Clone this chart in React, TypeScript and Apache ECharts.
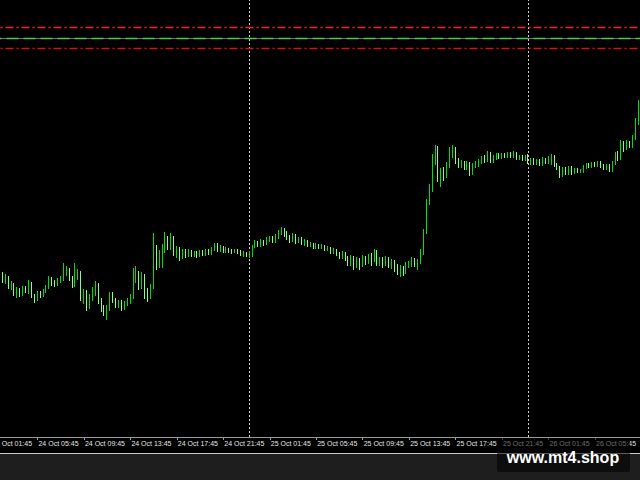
import React, { useEffect, useRef } from "react";
import * as echarts from "echarts";

// M15 time axis: first slot 24 Oct 01:45 (its candle area is just off-canvas left), 224 slots
const FIRST_DAY = 24;
const FIRST_MINUTE = 1 * 60 + 45;
const SLOT_COUNT = 224;

const tickLabels = [
  "24 Oct 01:45", "24 Oct 05:45", "24 Oct 09:45", "24 Oct 13:45", "24 Oct 17:45",
  "24 Oct 21:45", "25 Oct 01:45", "25 Oct 05:45", "25 Oct 09:45", "25 Oct 13:45",
  "25 Oct 17:45", "25 Oct 21:45", "26 Oct 01:45", "26 Oct 05:45",
];

const daySeparators = ["25 Oct 00:00", "26 Oct 00:00"];

// horizontal levels (price units)
const redUpperLevel = 410;
const greenLevel = 399;
const redLowerLevel = 389;

// [open, close, low, high]
const candles: (number | string)[][] = [
  ["-", "-", "-", "-"], ["-", "-", "-", "-"], ["-", "-", "-", "-"], ["-", "-", "-", "-"],
  [161,157,154,165],[157,159,153,163],[159,151,148,161],[151,153,147,156],[153,145,141,154],
  [145,147,139,150],[147,143,140,149],[143,148,141,151],[148,146,144,151],[146,154,143,157],
  [154,141,139,155],[141,138,134,143],[138,143,136,146],[143,142,139,146],[142,145,140,148],
  [145,150,144,152],[150,157,148,161],[157,154,151,160],[154,153,150,157],[153,156,151,159],
  [156,158,154,161],[158,165,156,174],[165,167,161,171],[167,159,156,169],[159,152,149,161],
  [152,162,150,174],[162,164,157,168],[164,139,136,166],[139,143,133,148],[143,130,126,147],
  [130,139,128,143],[139,147,136,150],[147,152,141,156],[152,137,133,154],[137,129,125,139],
  [129,126,121,132],[126,128,117,132],[128,142,126,145],[142,137,134,145],[137,132,129,139],
  [132,134,129,137],[134,130,126,137],[130,133,127,136],[133,137,131,139],[137,140,133,143],
  [140,157,138,169],[157,164,154,171],[164,151,147,166],[151,161,148,165],[161,142,138,163],
  [142,140,135,149],[140,150,138,153],[150,187,148,204],[187,173,167,192],[173,180,169,187],
  [180,187,169,193],[187,197,184,205],[197,191,187,201],[191,199,187,204],[199,185,181,201],
  [185,187,179,191],[187,180,176,190],[180,185,178,188],[185,182,179,188],[182,186,180,188],
  [186,182,180,187],[182,184,180,186],[184,181,179,186],[181,185,180,187],[185,183,181,187],
  [183,186,181,188],[186,184,182,188],[184,188,182,190],[188,192,186,194],[192,187,185,194],
  [187,189,185,192],[189,186,184,191],[186,188,184,190],[188,186,184,189],[186,185,183,188],
  [185,187,184,188],[187,185,183,188],[185,183,181,187],[183,184,180,186],[184,182,180,185],
  [182,184,179,186],[184,191,180,192],[191,194,189,197],[194,192,190,196],[192,196,190,198],
  [196,194,191,197],[194,197,192,200],[197,199,195,201],[199,196,194,201],[196,200,194,203],
  [200,204,198,207],[204,207,202,210],[207,203,200,209],[203,200,197,206],[200,197,194,202],
  [197,201,195,204],[201,196,193,203],[196,198,194,200],[198,194,192,200],[194,196,191,198],
  [196,192,190,197],[192,193,190,195],[193,190,188,194],[190,192,188,194],[192,190,188,193],
  [190,191,188,193],[191,188,186,192],[188,189,186,191],[189,185,183,190],[185,187,183,189],
  [187,183,181,188],[183,181,178,185],[181,183,178,186],[183,179,176,185],[179,175,171,181],
  [175,179,171,182],[179,172,167,181],[172,177,169,180],[177,173,167,179],[173,179,170,182],
  [179,175,172,181],[175,180,173,183],[180,177,171,184],[177,185,175,188],[185,175,171,187],
  [175,177,171,180],[177,173,169,180],[173,178,171,181],[178,172,169,180],[172,175,168,178],
  [175,170,165,177],[170,167,162,173],[167,169,160,172],[169,165,161,171],[165,172,163,175],
  [172,173,169,176],[173,177,170,180],[177,173,170,179],[173,175,167,178],[175,185,173,188],
  [185,205,182,208],[205,234,203,238],[234,249,232,253],[249,277,245,283],[277,289,272,292],
  [289,259,255,291],[259,265,250,269],[265,261,256,270],[261,272,259,275],[272,285,269,290],
  [285,289,279,292],[289,277,273,290],[277,272,269,279],[272,274,269,277],[274,270,267,276],
  [270,273,267,276],[273,265,261,275],[265,271,262,274],[271,273,269,276],[273,275,270,278],
  [275,279,273,281],[279,277,274,282],[277,283,275,286],[283,277,274,285],[277,279,274,282],
  [279,282,277,284],[282,280,278,284],[280,282,278,284],[282,281,279,284],[281,283,279,285],
  [283,281,279,285],[281,284,279,286],[284,279,277,285],[279,280,277,282],[280,278,276,282],
  [278,280,276,282],[280,275,273,283],[275,277,272,279],[277,274,272,279],[274,276,272,278],
  [276,273,271,278],[273,277,271,280],[277,275,273,279],[275,278,273,281],[278,280,272,283],
  [280,272,270,282],[272,269,267,274],[269,262,259,271],[262,267,260,270],[267,264,262,270],
  [264,268,262,271],[268,265,262,271],[265,267,263,269],[267,265,264,269],[265,266,264,268],
  [266,270,264,272],[270,272,268,274],[272,271,269,274],[271,273,269,275],[273,272,270,275],
  [272,274,270,276],[274,271,269,276],[271,269,267,273],[269,271,267,273],[271,268,265,273],
  [268,274,265,276],[274,282,272,285],[282,279,276,286],[279,292,277,297],[292,289,285,296],
  [289,294,287,297],[294,291,289,296],[291,299,289,302],[299,314,297,319],[314,332,312,337],
];

const pad = (n: number) => (n < 10 ? "0" + n : String(n));
const categories: string[] = [];
for (let k = 0; k < SLOT_COUNT; k++) {
  const m = FIRST_MINUTE + k * 15;
  const day = FIRST_DAY + Math.floor(m / 1440);
  const mm = m % 1440;
  categories.push(`${day} Oct ${pad(Math.floor(mm / 60))}:${pad(mm % 60)}`);
}

const isTick = (_i: number, v: string) => tickLabels.indexOf(v) >= 0;

// chart canvas is shifted left so the first (partial) time label hangs off the window edge
const SHIFT = 11;

const levelSeries = (name: string, mark: any) => ({
  name,
  type: "line",
  data: [],
  silent: true,
  color: mark.lineStyle.color,
  markLine: {
    silent: true,
    symbol: ["none", "none"],
    label: { show: false },
    animation: false,
    data: [mark],
    lineStyle: mark.lineStyle,
    emphasis: { disabled: true },
  },
});

export default function App() {
  const ref = useRef<HTMLDivElement>(null);
  useEffect(() => {
    if (!ref.current) return;
    const chart = echarts.init(ref.current, undefined, { renderer: "svg" });
    const redDash = [8, 3, 2, 3];
    chart.setOption({
      animation: false,
      backgroundColor: "#000000",
      grid: { left: 0, right: 0, top: 0, bottom: 43 },
      xAxis: {
        type: "category",
        data: categories,
        boundaryGap: true,
        axisLine: { show: true, lineStyle: { color: "#9a9a9a", width: 1 } },
        axisTick: {
          show: true,
          alignWithLabel: true,
          interval: isTick,
          length: 3,
          lineStyle: { color: "#9a9a9a" },
        },
        axisLabel: {
          interval: isTick,
          align: "left",
          margin: 3,
          fontSize: 7,
          color: "#e2e2e2",
          fontFamily: "Liberation Sans, Arial, sans-serif",
          padding: [0, 0, 0, 1],
        },
        splitLine: { show: false },
      },
      yAxis: {
        type: "value",
        min: 0,
        max: 437,
        show: false,
        splitLine: { show: false },
      },
      series: [
        levelSeries("sep1", { xAxis: daySeparators[0], lineStyle: { color: "#d2d2d2", width: 1, type: [2, 2] } }),
        levelSeries("sep2", { xAxis: daySeparators[1], lineStyle: { color: "#d2d2d2", width: 1, type: [2, 2] } }),
        levelSeries("redUpper", { yAxis: redUpperLevel, lineStyle: { color: "#ff1e1e", width: 1.4, type: redDash, opacity: 1 } }),
        levelSeries("greenBase", { yAxis: greenLevel, lineStyle: { color: "#707070", width: 1.2, type: "solid", opacity: 1 } }),
        levelSeries("green", { yAxis: greenLevel, lineStyle: { color: "#3cd23c", width: 1.4, type: [12, 5], opacity: 1 } }),
        levelSeries("redLower", { yAxis: redLowerLevel, lineStyle: { color: "#c81818", width: 1.4, type: redDash, opacity: 1 } }),
        {
          type: "candlestick",
          data: candles,
          barWidth: 1.3,
          z: 5,
          itemStyle: {
            color: "#00e000",
            color0: "#86ff86",
            borderColor: "#00e000",
            borderColor0: "#86ff86",
            borderWidth: 1,
          },
        },
      ],
      graphic: [
        { type: "rect", shape: { x: 0, y: 454, width: 700, height: 26 }, style: { fill: "#1e1e1e" }, silent: true },
        { type: "line", shape: { x1: 0, y1: 453.5, x2: 700, y2: 453.5 }, style: { stroke: "#c8c8c8", lineWidth: 1 }, silent: true },
        {
          type: "rect",
          z: 100,
          shape: { x: 497 + SHIFT, y: 438, width: 133, height: 34, r: 2 },
          style: { fill: "rgba(0,0,0,0.55)" },
          silent: true,
        },
        {
          type: "text",
          z: 101,
          x: 563 + SHIFT,
          y: 457,
          style: {
            text: "www.mt4.shop",
            fill: "#ffffff",
            fontSize: 16,
            fontWeight: "bold",
            fontFamily: "Liberation Sans, Arial, sans-serif",
            align: "center",
            verticalAlign: "middle",
          },
          silent: true,
        },
      ],
    });
    return () => chart.dispose();
  }, []);
  return (
    <div
      style={{
        position: "fixed",
        left: 0,
        top: 0,
        width: 640,
        height: 480,
        overflow: "hidden",
        background: "#000",
      }}
    >
      <div
        ref={ref}
        style={{ position: "absolute", left: -SHIFT, top: 0, width: 640 + SHIFT, height: 480 }}
      />
    </div>
  );
}
